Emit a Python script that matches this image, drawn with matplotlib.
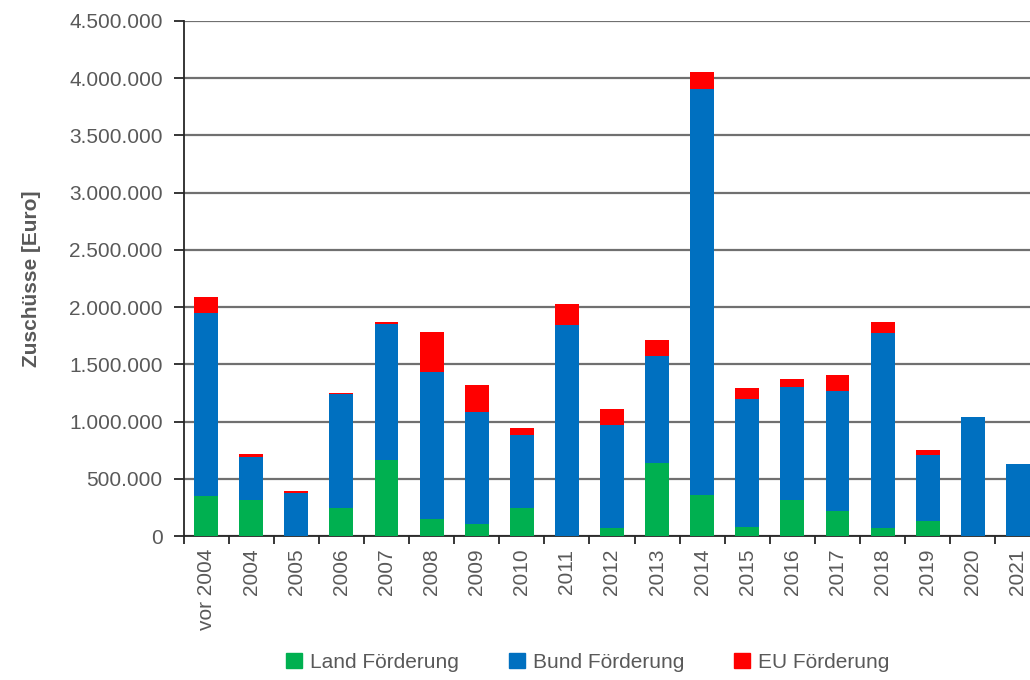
import matplotlib.pyplot as plt
from matplotlib.ticker import FuncFormatter
from matplotlib.patches import Patch
import numpy as np

plt.rcParams['font.family'] = ['Liberation Sans', 'DejaVu Sans']

# ---- data (Euro) ----
years = ["vor 2004", "2004", "2005", "2006", "2007", "2008", "2009", "2010",
         "2011", "2012", "2013", "2014", "2015", "2016", "2017", "2018",
         "2019", "2020", "2021"]
land = [350000, 315000, 0, 242000, 664000, 152000, 105000, 245000,
        0, 67000, 641000, 358000, 76000, 315000, 216000, 67000,
        134000, 0, 0]
bund = [1597000, 373000, 379000, 1000000, 1186000, 1279000, 979000, 635000,
        1844000, 903000, 932000, 3547000, 1124000, 985000, 1051000, 1710000,
        574000, 1040000, 627000]
eu = [145000, 29000, 14000, 5000, 21000, 349000, 233000, 67000,
      184000, 140000, 140000, 151000, 97000, 70000, 143000, 94000,
      44000, 0, 0]

green = "#00B050"
blue = "#0070C0"
red = "#FF0000"
gray = "#595959"

fig = plt.figure(figsize=(10.3, 6.8), dpi=100)
# axes continues past the right edge, like the cropped original
ax = fig.add_axes([183.5 / 1030, 1 - 536 / 680, 857 / 1030, 515 / 680])

x = np.arange(len(years))
land = np.array(land)
bund = np.array(bund)
eu = np.array(eu)
w = 0.53
ax.bar(x, land, w, color=green, zorder=3)
ax.bar(x, bund, w, bottom=land, color=blue, zorder=3)
ax.bar(x, eu, w, bottom=land + bund, color=red, zorder=3)

ax.set_xlim(-0.5, len(years) - 0.5)
ax.set_ylim(0, 4500000)
ax.set_yticks(np.arange(0, 4500001, 500000))
ax.yaxis.set_major_formatter(FuncFormatter(lambda v, p: f"{int(v):,}".replace(",", ".")))
ax.yaxis.grid(True, color="#707070", linewidth=1.6, zorder=0)

# category labels, ticks between categories
ax.set_xticks(x)
ax.set_xticklabels(years, rotation=90)
ax.set_xticks(np.arange(-0.5, len(years)), minor=True)
ax.tick_params(axis="x", which="major", length=0, pad=9, labelsize=15, labelcolor=gray)
ax.tick_params(axis="x", which="minor", length=6, width=1.3, direction="out", color="#262626")
ax.tick_params(axis="y", length=7, width=1.3, direction="out", color="#262626",
               labelsize=15, labelcolor=gray, pad=8)

for s in ["top", "right"]:
    ax.spines[s].set_visible(False)
for s in ["left", "bottom"]:
    ax.spines[s].set_color("#262626")
    ax.spines[s].set_linewidth(1.3)

ax.set_ylabel("Zuschüsse [Euro]", fontsize=15, fontweight="bold", color=gray, labelpad=20)

handles = [Patch(color=green, label="Land Förderung"),
           Patch(color=blue, label="Bund Förderung"),
           Patch(color=red, label="EU Förderung")]
fig.legend(handles=handles, loc="center", bbox_to_anchor=(588 / 1030, 1 - 662 / 680),
           ncol=3, frameon=False, fontsize=15, labelcolor=gray,
           handlelength=0.75, handleheight=0.75, handletextpad=0.4, columnspacing=2.4)

fig.savefig("out.png", dpi=100)
